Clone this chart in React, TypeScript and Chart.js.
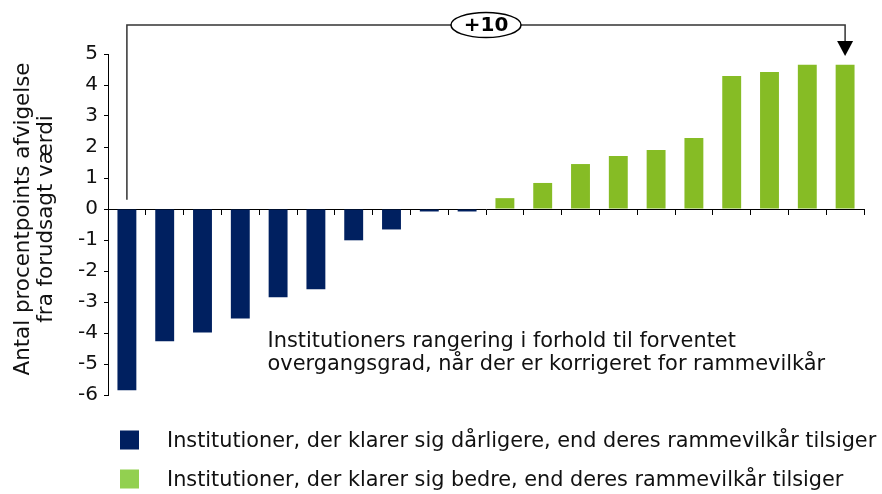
import React, { useEffect, useRef } from "react";
import { Chart, registerables } from "chart.js";

Chart.register(...registerables);

const categories = ["1","2","3","4","5","6","7","8","9","10","11","12","13","14","15","16","17","18","19","20"];
const worseValues = [-5.85, -4.27, -3.98, -3.53, -2.85, -2.59, -1.01, -0.66, -0.08, -0.08];
const betterValues = [0.35, 0.84, 1.45, 1.71, 1.9, 2.29, 4.29, 4.42, 4.65, 4.65];
const yTicks = [5, 4, 3, 2, 1, 0, -1, -2, -3, -4, -5, -6];
const legendLabels = [
  "Institutioner, der klarer sig dårligere, end deres rammevilkår tilsiger",
  "Institutioner, der klarer sig bedre, end deres rammevilkår tilsiger",
];
const yTitle = ["Antal procentpoints afvigelse", "fra forudsagt værdi"];
const noteLines = [
  "Institutioners rangering i forhold til forventet",
  "overgangsgrad, når der er korrigeret for rammevilkår",
];
const bracketLabel = "+10";

const NAVY = "#002060";
const GREEN = "#86BC25";
const LEGEND_GREEN = "#92D050";
const FONT = "'DejaVu Sans', Verdana, sans-serif";

const overlayPlugin = {
  id: "overlay",
  afterDraw(chart: any) {
    const ctx = chart.ctx;
    const x = chart.scales.x;
    const y = chart.scales.y;
    const area = chart.chartArea;
    ctx.save();

    // y-axis title
    ctx.fillStyle = "#111";
    ctx.font = `21.4px ${FONT}`;
    ctx.textAlign = "center";
    ctx.textBaseline = "middle";
    const cy = 219;
    ctx.save();
    ctx.translate(23, cy);
    ctx.rotate(-Math.PI / 2);
    ctx.fillText(yTitle[0], 0, 0);
    ctx.restore();
    ctx.save();
    ctx.translate(46, cy);
    ctx.rotate(-Math.PI / 2);
    ctx.fillText(yTitle[1], 0, 0);
    ctx.restore();

    // bracket
    const xl = x.getPixelForValue(0);
    const xr = x.getPixelForValue(categories.length - 1);
    const by = area.top - 29;
    const leftBottom = y.getPixelForValue(0.3);
    ctx.strokeStyle = "#333";
    ctx.lineWidth = 1.5;
    ctx.beginPath();
    ctx.moveTo(xl, leftBottom);
    ctx.lineTo(xl, by);
    ctx.lineTo(xr, by);
    ctx.lineTo(xr, by + 16);
    ctx.stroke();
    ctx.fillStyle = "#000";
    ctx.beginPath();
    ctx.moveTo(xr - 8, by + 16);
    ctx.lineTo(xr + 8, by + 16);
    ctx.lineTo(xr, by + 31);
    ctx.closePath();
    ctx.fill();

    const mx = (xl + xr) / 2;
    ctx.beginPath();
    ctx.ellipse(mx, by, 35, 12.5, 0, 0, Math.PI * 2);
    ctx.fillStyle = "#fff";
    ctx.fill();
    ctx.strokeStyle = "#000";
    ctx.lineWidth = 1.5;
    ctx.stroke();
    ctx.fillStyle = "#000";
    ctx.font = `bold 20px ${FONT}`;
    ctx.textAlign = "center";
    ctx.textBaseline = "middle";
    ctx.fillText(bracketLabel, mx, by + 1);

    // note text
    ctx.font = `20.9px ${FONT}`;
    ctx.textAlign = "left";
    ctx.textBaseline = "alphabetic";
    ctx.fillStyle = "#111";
    const nx = x.getPixelForValue(3.72);
    ctx.fillText(noteLines[0], nx, 347);
    ctx.fillText(noteLines[1], nx, 370);

    // legend
    const colors = [NAVY, LEGEND_GREEN];
    ctx.font = `20.8px ${FONT}`;
    ctx.textBaseline = "middle";
    legendLabels.forEach((t, i) => {
      const ly = 440 + i * 39;
      ctx.fillStyle = colors[i];
      ctx.fillRect(120, ly - 9.5, 19, 19);
      ctx.fillStyle = "#111";
      ctx.fillText(t, 167, ly + 2);
    });

    ctx.restore();
  },
};

export default function App() {
  const ref = useRef<HTMLCanvasElement>(null);
  useEffect(() => {
    const n = categories.length;
    const worse = categories.map((_, i) => (i < worseValues.length ? worseValues[i] : null));
    const better = categories.map((_, i) =>
      i >= n - betterValues.length ? betterValues[i - (n - betterValues.length)] : null
    );
    const chart = new Chart(ref.current as HTMLCanvasElement, {
      type: "bar",
      data: {
        labels: categories,
        datasets: [
          { label: legendLabels[0], data: worse, backgroundColor: NAVY, barPercentage: 0.5, categoryPercentage: 1 },
          { label: legendLabels[1], data: better, backgroundColor: GREEN, barPercentage: 0.5, categoryPercentage: 1 },
        ],
      },
      options: {
        responsive: false,
        animation: false,
        events: [],
        layout: { padding: { left: 0, top: 54, right: 18, bottom: 99 } },
        plugins: { legend: { display: false }, tooltip: { enabled: false } },
        scales: {
          x: {
            stacked: true,
            position: { y: 0 } as any,
            offset: true,
            grid: { drawOnChartArea: false, drawTicks: true, tickLength: 5, color: "#000", offset: true },
            border: { display: true, color: "#000", width: 1 },
            ticks: { display: false },
          },
          y: {
            min: -6,
            max: 5,
            afterFit(scale: any) {
              scale.width = 108;
            },
            afterBuildTicks(scale: any) {
              scale.ticks = yTicks.map((v) => ({ value: v }));
            },
            grid: { drawOnChartArea: false, drawTicks: true, tickLength: 4, color: "#000" },
            border: { display: true, color: "#000", width: 1 },
            ticks: {
              color: "#111",
              padding: 6,
              font: { family: FONT, size: 20 },
            },
          },
        },
      },
      plugins: [overlayPlugin],
    });
    return () => chart.destroy();
  }, []);
  return (
    <div style={{ position: "absolute", left: 0, top: 0, width: 882, height: 494, background: "#fff" }}>
      <canvas ref={ref} width={882} height={494} style={{ width: 882, height: 494, display: "block" }} />
    </div>
  );
}
